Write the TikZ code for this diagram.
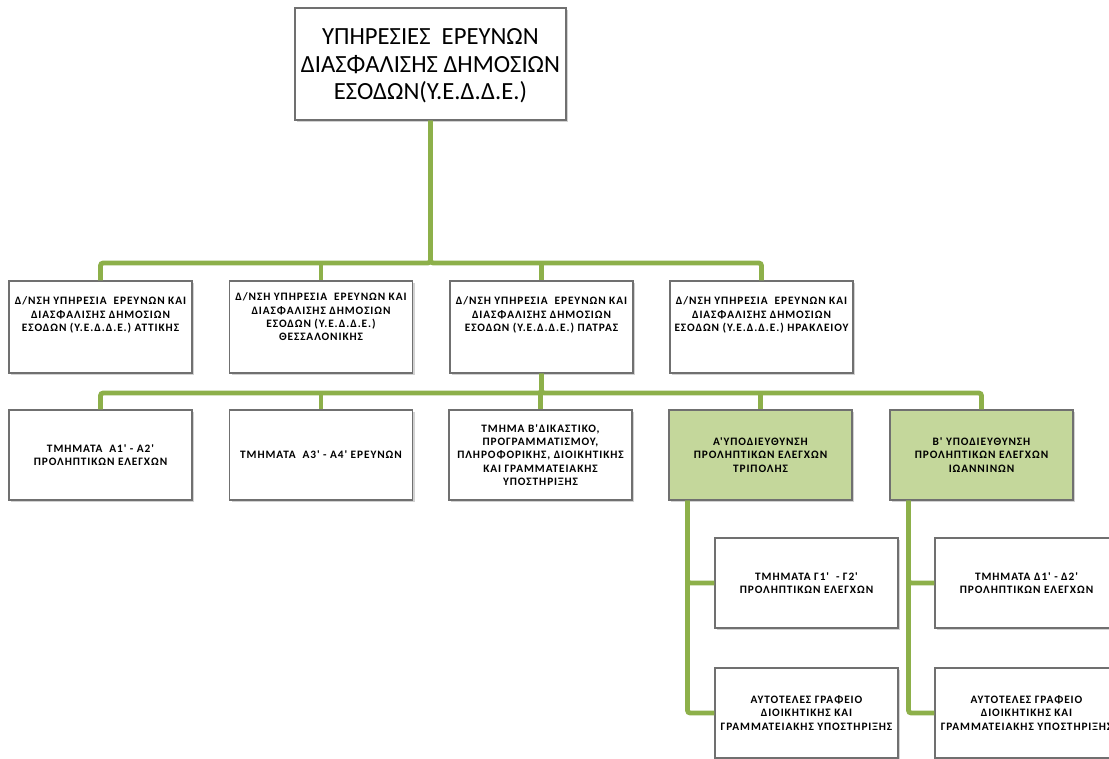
\documentclass[tikz,border=0pt]{standalone}
\usepackage{fontspec}
\setmainfont{Carlito}[Ligatures=TeXOff]
\newfontfamily\smallfont{Carlito}[Ligatures=TeXOff, LetterSpace=8]
\usetikzlibrary{shadows}
\definecolor{lineg}{HTML}{8DB04A}
\definecolor{fillg}{HTML}{C4D79B}
\definecolor{boxb}{HTML}{707070}
\tikzset{
  box/.style={draw=boxb, line width=0.8pt, fill=white, inner sep=0pt,
    minimum width=137.25pt, minimum height=67.5pt,
    drop shadow={shadow xshift=1.6pt, shadow yshift=-1.8pt, opacity=0.35}},
  r2box/.style={box, minimum height=69pt},
  gbox/.style={box, fill=fillg},
  topbox/.style={box, minimum width=203.25pt, minimum height=84pt},
  txt/.style={align=center, font=\smallfont\bfseries\fontsize{8.5}{10}\selectfont, inner sep=0pt},
  toptxt/.style={align=center, font=\fontsize{18.5}{20.5}\selectfont, inner sep=0pt},
  conn/.style={draw=lineg, line width=3.6pt, rounded corners=2pt}
}
\begin{document}
\begin{tikzpicture}[x=0.75pt,y=-0.75pt]
\useasboundingbox (0,0) rectangle (1109,758);
\clip (0,0) rectangle (1109,758);
\fill[white] (0,0) rectangle (1109,758);
\coordinate (bus1) at (0,263);
\coordinate (bus2) at (0,393);
% nodes
\node[topbox] (top) at (430.5,64) {};
\node[toptxt, yshift=-1.5pt] (toptext) at (top.center) {ΥΠΗΡΕΣΙΕΣ \ ΕΡΕΥΝΩΝ\\ΔΙΑΣΦΑΛΙΣΗΣ ΔΗΜΟΣΙΩΝ\\ΕΣΟΔΩΝ(Υ.Ε.Δ.Δ.Ε.)};

\node[r2box] (r2a) at (100.5,327) {};
\node[r2box] (r2b) at (321,327) {};
\node[r2box] (r2c) at (541.5,327) {};
\node[r2box] (r2d) at (761.5,327) {};
\node[txt, yshift=9pt] (r2at) at (r2a.center) {Δ/ΝΣΗ ΥΠΗΡΕΣΙΑ \ ΕΡΕΥΝΩΝ ΚΑΙ\\ΔΙΑΣΦΑΛΙΣΗΣ ΔΗΜΟΣΙΩΝ\\ΕΣΟΔΩΝ (Υ.Ε.Δ.Δ.Ε.) ΑΤΤΙΚΗΣ};
\node[txt, yshift=7.5pt] (r2bt) at (r2b.center) {Δ/ΝΣΗ ΥΠΗΡΕΣΙΑ \ ΕΡΕΥΝΩΝ ΚΑΙ\\ΔΙΑΣΦΑΛΙΣΗΣ ΔΗΜΟΣΙΩΝ\\ΕΣΟΔΩΝ (Υ.Ε.Δ.Δ.Ε.)\\ΘΕΣΣΑΛΟΝΙΚΗΣ};
\node[txt, yshift=9pt] (r2ct) at (r2c.center) {Δ/ΝΣΗ ΥΠΗΡΕΣΙΑ \ ΕΡΕΥΝΩΝ ΚΑΙ\\ΔΙΑΣΦΑΛΙΣΗΣ ΔΗΜΟΣΙΩΝ\\ΕΣΟΔΩΝ (Υ.Ε.Δ.Δ.Ε.) ΠΑΤΡΑΣ};
\node[txt, yshift=9pt] (r2dt) at (r2d.center) {Δ/ΝΣΗ ΥΠΗΡΕΣΙΑ \ ΕΡΕΥΝΩΝ ΚΑΙ\\ΔΙΑΣΦΑΛΙΣΗΣ ΔΗΜΟΣΙΩΝ\\ΕΣΟΔΩΝ (Υ.Ε.Δ.Δ.Ε.) ΗΡΑΚΛΕΙΟΥ};

\node[box, txt] (r3a) at (100.5,455) {ΤΜΗΜΑΤΑ \ Α1' - Α2'\\ΠΡΟΛΗΠΤΙΚΩΝ ΕΛΕΓΧΩΝ};
\node[box, txt] (r3b) at (321,455) {ΤΜΗΜΑΤΑ \ Α3' - Α4' ΕΡΕΥΝΩΝ};
\node[box, txt] (r3c) at (540.5,455) {ΤΜΗΜΑ Β'ΔΙΚΑΣΤΙΚΟ,\\ΠΡΟΓΡΑΜΜΑΤΙΣΜΟΥ,\\ΠΛΗΡΟΦΟΡΙΚΗΣ, ΔΙΟΙΚΗΤΙΚΗΣ\\ΚΑΙ ΓΡΑΜΜΑΤΕΙΑΚΗΣ\\ΥΠΟΣΤΗΡΙΞΗΣ};
\node[gbox, txt] (r3d) at (760.5,455) {Α'ΥΠΟΔΙΕΥΘΥΝΣΗ\\ΠΡΟΛΗΠΤΙΚΩΝ ΕΛΕΓΧΩΝ\\ΤΡΙΠΟΛΗΣ};
\node[gbox, txt] (r3e) at (981.5,455) {Β' ΥΠΟΔΙΕΥΘΥΝΣΗ\\ΠΡΟΛΗΠΤΙΚΩΝ ΕΛΕΓΧΩΝ\\ΙΩΑΝΝΙΝΩΝ};

\node[box, txt] (b1) at (806.5,583) {ΤΜΗΜΑΤΑ Γ1' \ - Γ2'\\ΠΡΟΛΗΠΤΙΚΩΝ ΕΛΕΓΧΩΝ};
\node[box, txt] (b2) at (806.5,713) {ΑΥΤΟΤΕΛΕΣ ΓΡΑΦΕΙΟ\\ΔΙΟΙΚΗΤΙΚΗΣ ΚΑΙ\\ΓΡΑΜΜΑΤΕΙΑΚΗΣ ΥΠΟΣΤΗΡΙΞΗΣ};
\node[box, txt] (b3) at (1026.5,583) {ΤΜΗΜΑΤΑ Δ1' - Δ2'\\ΠΡΟΛΗΠΤΙΚΩΝ ΕΛΕΓΧΩΝ};
\node[box, txt] (b4) at (1026.5,713) {ΑΥΤΟΤΕΛΕΣ ΓΡΑΦΕΙΟ\\ΔΙΟΙΚΗΤΙΚΗΣ ΚΑΙ\\ΓΡΑΜΜΑΤΕΙΑΚΗΣ ΥΠΟΣΤΗΡΙΞΗΣ};

% connectors
\draw[conn] (top.south) |- (bus1 -| r2a.north) -- (r2a.north);
\draw[conn] (top.south) |- (bus1 -| r2d.north) -- (r2d.north);
\draw[conn] (bus1 -| r2b.north) -- (r2b.north);
\draw[conn] (bus1 -| r2c.north) -- (r2c.north);

\draw[conn] (r2c.south) |- (bus2 -| r3a.north) -- (r3a.north);
\draw[conn] (r2c.south) |- (bus2 -| r3e.north) -- (r3e.north);
\draw[conn] (bus2 -| r3b.north) -- (r3b.north);
\draw[conn] (bus2 -| r3c.north) -- (r3c.north);
\draw[conn] (bus2 -| r3d.north) -- (r3d.north);

\draw[conn] ([xshift=14.25pt]r3d.south west) |- (b1.west);
\draw[conn] ([xshift=14.25pt]r3d.south west) |- (b2.west);
\draw[conn] ([xshift=14.25pt]r3e.south west) |- (b3.west);
\draw[conn] ([xshift=14.25pt]r3e.south west) |- (b4.west);
\end{tikzpicture}
\end{document}
